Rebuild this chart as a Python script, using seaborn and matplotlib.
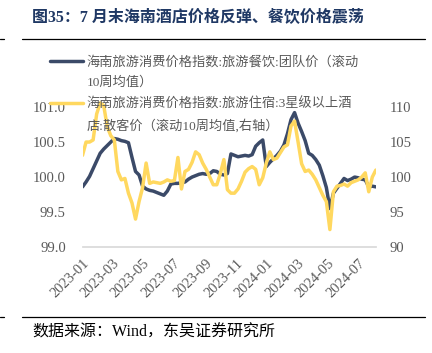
import numpy as np
import pandas as pd
import seaborn as sns
import matplotlib.pyplot as plt
import matplotlib.dates as mdates
from matplotlib.lines import Line2D

# Weekly data, 10-week rolling averages
dates = pd.date_range("2023-01-01", periods=84, freq="7D")

# Hainan tourism CPI: catering, group price (left axis)
catering = [
    99.86, 99.93, 100.01, 100.12, 100.23, 100.34, 100.40, 100.45, 100.50, 100.55,
    100.54, 100.52, 100.51, 100.49, 100.28, 100.08, 100.03, 99.87, 99.83, 99.81,
    99.80, 99.78, 99.76, 99.74, 99.80, 99.90, 99.91, 99.91, 99.92, 99.93,
    99.97, 100.00, 100.02, 100.04, 100.05, 100.04, 100.05, 100.09, 100.08, 100.04,
    100.03, 100.05, 100.33, 100.31, 100.29, 100.30, 100.31, 100.30, 100.32, 100.44,
    100.49, 100.53, 100.15, 100.21, 100.26, 100.31, 100.37, 100.46, 100.62, 100.82,
    100.92, 100.77, 100.65, 100.52, 100.34, 100.31, 100.25, 100.17, 100.02, 99.85,
    99.55, 99.77, 99.84, 99.91, 99.98, 99.95, 99.97, 100.00, 99.99, 99.97,
    99.96, 99.86, 99.87, 99.86,
]

# Hainan tourism CPI: hotels 3-star and above, individual price (right axis)
hotel = [
    103.1, 105.0, 105.0, 105.3, 109.0, 110.6, 110.2, 107.2, 105.9, 105.3,
    100.8, 99.6, 99.8, 97.7, 96.3, 94.0, 96.5, 98.5, 102.0, 99.1,
    99.3, 99.2, 99.1, 99.3, 99.6, 99.4, 99.5, 102.8, 98.3, 100.8,
    101.1, 102.1, 103.6, 103.2, 102.0, 101.1, 100.0, 98.9, 98.9, 100.5,
    102.5, 98.2, 97.7, 97.7, 98.3, 99.4, 100.7, 101.2, 101.5, 101.1,
    98.9, 99.9, 102.0, 103.6, 102.5, 102.7, 103.5, 104.3, 104.6, 107.3,
    108.0, 105.0, 101.9, 100.8, 101.0, 100.4, 99.6, 98.5, 97.4, 96.5,
    92.5, 97.9, 98.7, 98.8, 99.0, 98.7, 99.2, 99.4, 99.6, 100.0,
    100.6, 97.9, 100.0, 101.0,
]

label_1 = ["海南旅游消费价格指数:旅游餐饮:团队价（滚动", "10周均值）"]
label_2 = ["海南旅游消费价格指数:旅游住宿:3星级以上酒", "店:散客价（滚动10周均值,右轴）"]
left_ticks = [99.0, 99.5, 100.0, 100.5, 101.0]
right_ticks = [90, 95, 100, 105, 110]

BLUE = "#3B4A68"
YELLOW = "#FFD85F"
GRAY = "#595959"

sns.set_theme(style="white")
plt.rcParams["font.family"] = ["Liberation Serif", "Noto Sans CJK SC"]

df = pd.DataFrame({"date": dates, "catering": catering, "hotel": hotel})

fig = plt.figure(figsize=(4.32, 3.53), dpi=100)
ax = fig.add_axes([0.191, 0.300, 0.679, 0.496])
ax2 = ax.twinx()

sns.lineplot(data=df, x="date", y="catering", ax=ax, color=BLUE, lw=2.5)
sns.lineplot(data=df, x="date", y="hotel", ax=ax2, color=YELLOW, lw=2.5)

ax.set_xlim(dates[0], dates[-1])
ax.set_ylim(99.0, 101.5)
ax2.set_ylim(90, 115)
ax.set_yticks(left_ticks)
ax.set_yticklabels([f"{v:.1f}" for v in left_ticks])
ax2.set_yticks(right_ticks)
ax2.set_yticklabels([str(v) for v in right_ticks])

ax.set_xticks(pd.date_range("2023-01-01", "2024-07-01", freq="2MS"))
ax.xaxis.set_major_formatter(mdates.DateFormatter("%Y-%m"))
for lab in ax.get_xticklabels():
    lab.set_rotation(45)
    lab.set_ha("right")
    lab.set_rotation_mode("anchor")

for a in (ax, ax2):
    a.set_xlabel("")
    a.set_ylabel("")
    for s in a.spines.values():
        s.set_visible(False)
ax.spines["bottom"].set_visible(True)
ax.spines["bottom"].set_color("#D9D9D9")

ax.tick_params(axis="x", length=4, color="#D9D9D9", labelsize=10.5, labelcolor=GRAY, pad=3)
ax.tick_params(axis="y", length=0, labelsize=10.5, labelcolor=GRAY, pad=12)
ax2.tick_params(axis="y", length=0, labelsize=10.5, labelcolor=GRAY, pad=10)

# legend: second line of each label gets an empty handle so the line sits on row one
handles = [
    Line2D([], [], color=BLUE, lw=2.5),
    Line2D([], [], color="none"),
    Line2D([], [], color=YELLOW, lw=2.5),
    Line2D([], [], color="none"),
]
labels = [label_1[0], label_1[1], label_2[0], label_2[1]]
fig.legend(handles, labels, loc="upper left", bbox_to_anchor=(0.115, 0.843),
           frameon=False, fontsize=9.5, handlelength=2.5, handletextpad=0.3,
           labelspacing=0.64, borderpad=0, borderaxespad=0, labelcolor=GRAY)

fig.text(0.074, 0.952, "图35：7 月末海南酒店价格反弹、餐饮价格震荡",
         fontsize=11.5, weight="bold", color="#1F3864", va="center")
fig.text(0.074, 0.059, "数据来源：Wind，东吴证券研究所", fontsize=11.5,
         color="black", va="center")

fig.add_artist(Line2D([0.051, 0.984], [0.889, 0.889], color="black", lw=0.9))
fig.add_artist(Line2D([0.0, 0.009], [0.889, 0.889], color="black", lw=0.9))
fig.add_artist(Line2D([0.051, 0.984], [0.102, 0.102], color="black", lw=0.9))
fig.add_artist(Line2D([0.0, 0.009], [0.102, 0.102], color="black", lw=0.9))

fig.savefig("out.png", dpi=100)
